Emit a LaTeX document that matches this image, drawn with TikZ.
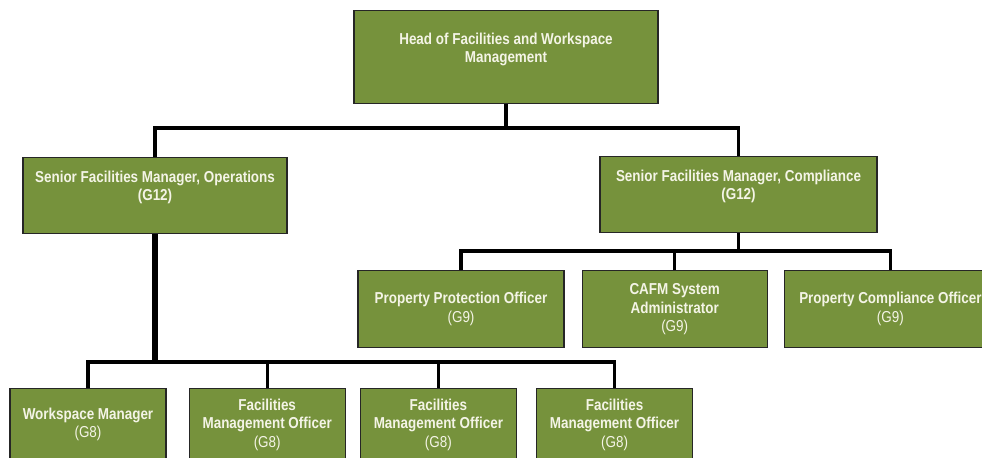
\documentclass[tikz,border=0pt]{standalone}
\usepackage{fontspec}
\setmainfont{Liberation Sans}[FakeStretch=0.85]
\usepackage{tikz}
\usetikzlibrary{positioning}
\definecolor{olive}{RGB}{118,146,60}
\definecolor{cream}{RGB}{244,244,230}
\tikzstyle{every node}+=[inner sep=0pt]
\tikzstyle{block} = [rectangle, draw=black!85, line width=0.7pt, fill=olive, text=cream, font=\fontsize{9}{10.5}\selectfont\bfseries, align=center]
\tikzstyle{chief} = [block, anchor=north, minimum width=6.08cm, text height=1.04cm, text depth=0.82cm]
\tikzstyle{senior} = [block, anchor=north, text height=0.86cm, text depth=0.66cm]
\tikzstyle{officer} = [block, anchor=north, minimum height=1.54cm]
\tikzstyle{staff} = [block, anchor=north, minimum width=3.12cm, minimum height=1.44cm]
\tikzstyle{line} = [draw, line width=1.8pt]

\begin{document}
\begin{tikzpicture}[x=0.02cm, y=-0.02cm]
            \useasboundingbox (0,0) rectangle (982,457);
            % Place nodes
            \node [chief] (head) at (506,10) {Head of Facilities and Workspace\\Management};
            \node [senior, minimum width=5.28cm] (ops) at (155,157) {Senior Facilities Manager, Operations\\(G12)};
            \node [senior, minimum width=5.54cm] (comp) at (738.5,156) {Senior Facilities Manager, Compliance\\(G12)};
            \node [officer, minimum width=4.12cm] (ppo) at (461,270) {Property Protection Officer\\{\mdseries (G9)}};
            \node [officer, minimum width=3.7cm, right=0.34cm of ppo] (cafm) {CAFM System\\Administrator\\{\mdseries (G9)}};
            \node [officer, minimum width=4.24cm, right=0.32cm of cafm] (pco) {Property Compliance Officer\\{\mdseries (G9)}};
            \node [staff] (wm) at (88,388) {Workspace Manager\\{\mdseries (G8)}};
            \node [staff, right=0.44cm of wm] (fmo1) {Facilities\\Management Officer\\{\mdseries (G8)}};
            \node [staff, right=0.28cm of fmo1] (fmo2) {Facilities\\Management Officer\\{\mdseries (G8)}};
            \node [staff, right=0.38cm of fmo2] (fmo3) {Facilities\\Management Officer\\{\mdseries (G8)}};
            % Bus lines
            \coordinate (topbus) at (506,128);
            \coordinate (rightbus) at (738.5,251);
            \coordinate (leftbus) at (155,362);
            % Draw edges
            \path [line] (head) -- (topbus);
            \path [line] (ops) |- (topbus) -| (comp);
            \path [line] (comp) -- (rightbus);
            \path [line] (ppo) |- (rightbus) -| (pco);
            \path [line] (cafm) -- (cafm |- rightbus);
            \path [line, line width=3pt] (ops) -- (leftbus);
            \path [line] (wm) |- (leftbus) -| (fmo3);
            \path [line] (fmo1) -- (fmo1 |- leftbus);
            \path [line] (fmo2) -- (fmo2 |- leftbus);
          \end{tikzpicture}
\end{document}
